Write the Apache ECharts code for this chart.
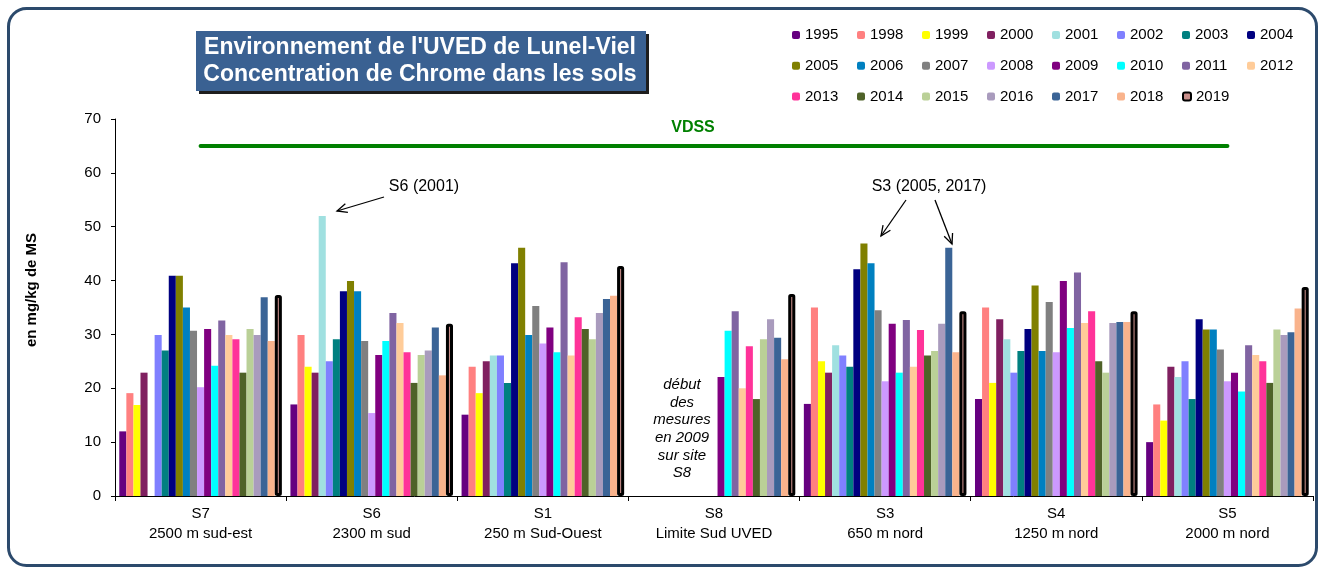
<!DOCTYPE html>
<html>
<head>
<meta charset="utf-8">
<script src="https://cdn.jsdelivr.net/npm/echarts@6/dist/echarts.min.js"></script>
<style>
  html, body { margin: 0; padding: 0; background: #fff; }
  #main { width: 1319px; height: 568px; }
</style>
</head>
<body>
<div id="main"></div>
<script>
var FONT = 'Arial, "Liberation Sans", sans-serif';

var sites = ['S7\n2500 m sud-est', 'S6\n2300 m sud', 'S1\n250 m Sud-Ouest', 'S8\nLimite Sud UVED',
             'S3\n650 m nord', 'S4\n1250 m nord', 'S5\n2000 m nord'];
var years = ['1995', '1998', '1999', '2000', '2001', '2002', '2003', '2004', '2005', '2006', '2007', '2008',
             '2009', '2010', '2011', '2012', '2013', '2014', '2015', '2016', '2017', '2018', '2019'];
var colors = ['#660080', '#ff8080', '#ffff00', '#802060', '#a0e0e0', '#8080ff', '#008080', '#000080',
              '#808000', '#0080c0', '#808080', '#cc99ff', '#800080', '#00ffff', '#8064a2', '#ffcc99',
              '#ff3399', '#4f6228', '#bad097', '#a99bbd', '#3b6496', '#f9b38c', '#c98e8a'];

// one value per year, in the order of "years"
var s7 = [12, 19.1, 16.9, 22.9, null, 29.9, 27, 40.9, 40.9, 35, 30.7, 20.2, 31, 24.2, 32.6, 29.9, 29.1, 22.9, 31, 29.9, 36.9, 28.8, 37.3];
var s6 = [17, 29.9, 24, 22.9, 52, 25, 29.1, 38, 39.9, 38, 28.8, 15.4, 26.2, 28.8, 34, 32.1, 26.7, 21, 26.2, 27, 31.3, 22.4, 32];
var s1 = [15.1, 24, 19.1, 25, 26.1, 26.1, 21, 43.2, 46.1, 29.9, 35.3, 28.3, 31.3, 26.7, 43.4, 26.1, 33.2, 31, 29.1, 34, 36.6, 37.2, 42.7];
var s8 = [null, null, null, null, null, null, null, null, null, null, null, null, 22.1, 30.7, 34.3, 20, 27.8, 18, 29.1, 32.8, 29.4, 25.4, 37.5];
var s3 = [17.1, 35, 25, 22.9, 28, 26.1, 24, 42.1, 46.9, 43.2, 34.5, 21.3, 32, 22.9, 32.7, 24, 30.8, 26.1, 26.9, 32, 46.1, 26.7, 34.3];
var s4 = [18, 35, 21, 32.8, 29.1, 22.9, 26.9, 31, 39.1, 26.9, 36, 26.7, 39.9, 31.2, 41.5, 32.1, 34.3, 25, 22.9, 32.1, 32.3, 32.3, 34.3];
var s5 = [10, 17, 14, 24, 22.1, 25, 18, 32.8, 30.9, 30.9, 27.2, 21.3, 22.9, 19.4, 28, 26.2, 25, 21, 30.9, 29.9, 30.4, 34.8, 38.8];
var vdss = [65, 65, 65, 65, 65, 65, 65];

var bySite = [s7, s6, s1, s8, s3, s4, s5];

var chart = echarts.init(document.getElementById('main'));

var series = years.map(function (y, i) {
    var last = i === years.length - 1;
    return {
        name: y,
        type: 'bar',
        barGap: '0%',
        barCategoryGap: '5%',
        data: bySite.map(function (s) { return s[i]; }),
        itemStyle: last
            ? { color: colors[i], borderColor: '#000', borderWidth: 3, borderRadius: 1 }
            : { color: colors[i] },
        z: last ? 3 : 2
    };
});
series.push({
    name: 'VDSS',
    type: 'line',
    data: vdss,
    symbol: 'none',
    silent: true,
    lineStyle: { color: '#008000', width: 4, cap: 'round' },
    z: 5
});

function arrow(x1, y1, x2, y2) {
    var a = Math.atan2(y2 - y1, x2 - x1), L = 11, s = 0.42;
    return [
        { type: 'line', shape: { x1: x1, y1: y1, x2: x2, y2: y2 }, style: { stroke: '#000', lineWidth: 1.3 } },
        { type: 'polyline', shape: { points: [
            [x2 - L * Math.cos(a - s), y2 - L * Math.sin(a - s)], [x2, y2],
            [x2 - L * Math.cos(a + s), y2 - L * Math.sin(a + s)]] },
          style: { stroke: '#000', lineWidth: 1.3, fill: null } }
    ];
}

function txt(x, y, text, font, color, extra) {
    var st = { text: text, font: font, fill: color || '#000', align: 'center', verticalAlign: 'middle',
               textAlign: 'center', textVerticalAlign: 'middle' };
    if (extra) for (var k in extra) st[k] = extra[k];
    return { type: 'text', x: x, y: y, style: st, z: 20 };
}

var graphics = [
    { type: 'rect', shape: { x: 8.5, y: 8.5, width: 1308, height: 557, r: 18 },
      style: { fill: null, stroke: '#2c4a6c', lineWidth: 3 }, z: 30 },
    // title box
    { type: 'rect', shape: { x: 199, y: 34, width: 450, height: 60 }, style: { fill: '#1e1e1e' }, z: 10 },
    { type: 'rect', shape: { x: 196, y: 31, width: 450, height: 60 }, style: { fill: '#3a6192' }, z: 11 },
    txt(420, 48, "Environnement de l'UVED de Lunel-Viel", 'bold 23px ' + FONT, '#fff'),
    txt(420, 75, 'Concentration de Chrome dans les sols', 'bold 23px ' + FONT, '#fff'),
    // axis name
    { type: 'text', x: 32, y: 290, rotation: Math.PI / 2,
      style: { text: 'en mg/kg de MS', font: 'bold 15px ' + FONT, fill: '#000',
               align: 'center', verticalAlign: 'middle', textAlign: 'center', textVerticalAlign: 'middle' }, z: 20 },
    txt(693, 128, 'VDSS', 'bold 16px ' + FONT, '#008000'),
    txt(424, 187, 'S6 (2001)', '16px ' + FONT),
    txt(929, 187, 'S3 (2005, 2017)', '16px ' + FONT),
    txt(682, 429, 'début\ndes\nmesures\nen 2009\nsur site\nS8', 'italic 15px ' + FONT, '#000', { lineHeight: 17.6 })
].concat(arrow(384, 197, 337, 211), arrow(906, 200, 881, 236), arrow(935, 200, 952, 244));

var option = {
    animation: false,
    backgroundColor: '#fff',
    textStyle: { fontFamily: FONT },
    legend: [0, 1, 2].map(function (r) {
        return {
            data: years.slice(r * 8, r * 8 + 8),
            left: 792,
            top: 27 + r * 30.8,
            padding: 0,
            itemWidth: 8,
            itemHeight: 8,
            itemGap: 6,
            selectedMode: false,
            textStyle: { fontSize: 15, color: '#000', width: 46, lineHeight: 16, fontFamily: FONT }
        };
    }),
    grid: { left: 115, right: 6, top: 119, bottom: 72, containLabel: false },
    xAxis: {
        type: 'category',
        data: sites,
        axisLine: { lineStyle: { color: '#000', width: 1 } },
        axisTick: { show: true, length: 5, lineStyle: { color: '#000' } },
        axisLabel: { color: '#000', fontSize: 15, lineHeight: 20, margin: 8, fontFamily: FONT, interval: 0 }
    },
    yAxis: {
        type: 'value',
        min: 0,
        max: 70,
        interval: 10,
        splitLine: { show: false },
        axisLine: { show: true, lineStyle: { color: '#000', width: 1 } },
        axisTick: { show: true, length: 4, lineStyle: { color: '#000' } },
        axisLabel: { color: '#000', fontSize: 15, margin: 14, fontFamily: FONT }
    },
    series: series,
    graphic: graphics
};

chart.setOption(option);
</script>
</body>
</html>
